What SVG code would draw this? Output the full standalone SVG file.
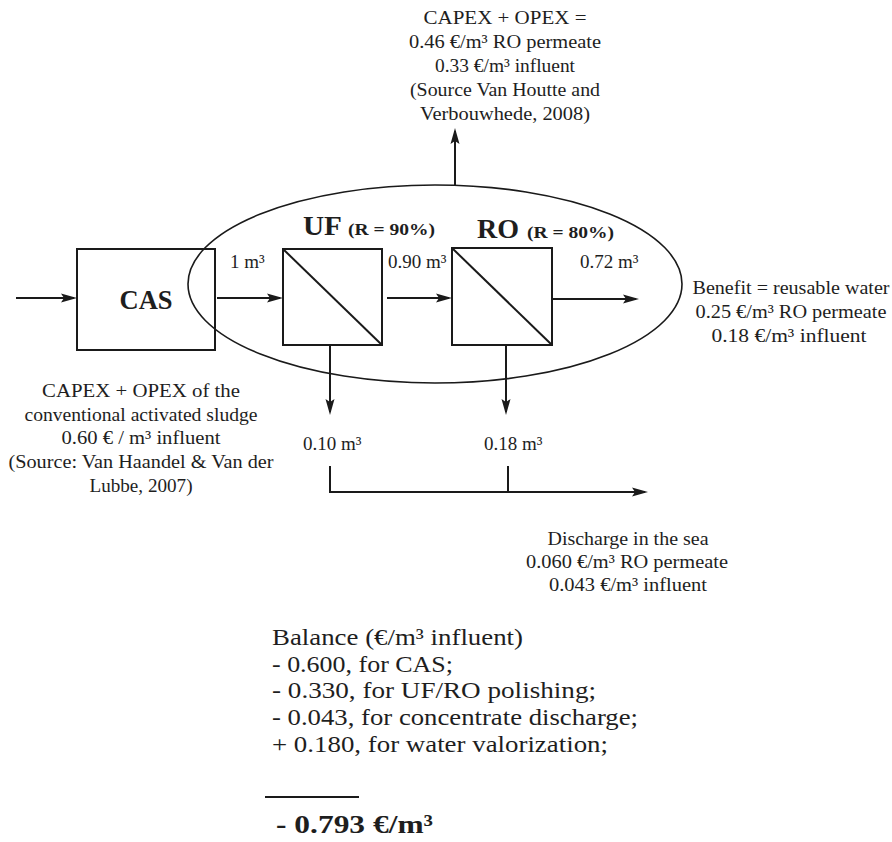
<svg xmlns="http://www.w3.org/2000/svg" width="892" height="842" viewBox="0 0 892 842">
  <defs>
    <marker id="ah" markerUnits="userSpaceOnUse" markerWidth="16" markerHeight="10" refX="13" refY="5" orient="auto">
      <path d="M0,0.5 L16,5 L0,9.5 L3,5 Z" fill="#1a1a1a"/>
    </marker>
    <style>
      .ln { stroke: #1a1a1a; stroke-width: 2; fill: none; }
      .bx { stroke: #1a1a1a; stroke-width: 2; fill: none; }
      .el { stroke: #1a1a1a; stroke-width: 1.6; fill: none; }
      .t { font-family: "Liberation Serif", "Times New Roman", serif; font-size: 19px; fill: #1e1e1e; }
      .c { text-anchor: middle; }
      .b { font-weight: bold; }
      .big { font-size: 27px; }
      .sm { font-size: 17px; }
      .bal { font-family: "Liberation Serif", "Times New Roman", serif; font-size: 23px; fill: #1e1e1e; }
      .tot { font-family: "Liberation Serif", "Times New Roman", serif; font-size: 26px; font-weight: bold; fill: #1e1e1e; }
    </style>
  </defs>

  <rect width="892" height="842" fill="#ffffff"/>

  <g id="boundary">
    <ellipse class="el" cx="435" cy="284" rx="247" ry="99"/>
  </g>

  <g id="connectors">
    <path class="ln" d="M16,298 H74" marker-end="url(#ah)"/>
    <path class="ln" d="M217,298 H280" marker-end="url(#ah)"/>
    <path class="ln" d="M387,298 H449" marker-end="url(#ah)"/>
    <path class="ln" d="M553,299 H636" marker-end="url(#ah)"/>
    <path class="ln" d="M455,185 V131" marker-end="url(#ah)"/>
    <path class="ln" d="M330,345 V412" marker-end="url(#ah)"/>
    <path class="ln" d="M506,345 V412" marker-end="url(#ah)"/>
    <path class="ln" d="M330,466 V492 H645" marker-end="url(#ah)"/>
    <path class="ln" d="M508,466 V492"/>
  </g>

  <g id="cas">
    <rect class="bx" x="77" y="249" width="138" height="101"/>
    <text class="t b c big" x="146" y="309" textLength="53" lengthAdjust="spacingAndGlyphs">CAS</text>
  </g>

  <g id="uf">
    <rect class="bx" x="283" y="249" width="99" height="96"/>
    <line class="ln" x1="283" y1="249" x2="382" y2="345"/>
    <text class="t b big" x="303" y="235" textLength="39" lengthAdjust="spacingAndGlyphs">UF</text>
    <text class="t b sm" x="348" y="235" textLength="87" lengthAdjust="spacingAndGlyphs">(R = 90%)</text>
  </g>

  <g id="ro">
    <rect class="bx" x="452" y="248" width="100" height="97"/>
    <line class="ln" x1="452" y1="248" x2="552" y2="345"/>
    <text class="t b big" x="477" y="238" textLength="42" lengthAdjust="spacingAndGlyphs">RO</text>
    <text class="t b sm" x="527" y="238" textLength="87" lengthAdjust="spacingAndGlyphs">(R = 80%)</text>
  </g>

  <g id="flow-labels">
    <text class="t" x="230" y="268">1 m³</text>
    <text class="t" x="388" y="268">0.90 m³</text>
    <text class="t" x="580" y="268">0.72 m³</text>
    <text class="t" x="303" y="450">0.10 m³</text>
    <text class="t" x="484" y="450">0.18 m³</text>
  </g>

  <g id="uf-ro-cost">
    <text class="t c" x="505" y="24" textLength="163" lengthAdjust="spacingAndGlyphs">CAPEX + OPEX =</text>
    <text class="t c" x="505" y="48" textLength="192" lengthAdjust="spacingAndGlyphs">0.46 €/m³ RO permeate</text>
    <text class="t c" x="505" y="72" textLength="140" lengthAdjust="spacingAndGlyphs">0.33 €/m³ influent</text>
    <text class="t c" x="505" y="96" textLength="190" lengthAdjust="spacingAndGlyphs">(Source Van Houtte and</text>
    <text class="t c" x="505" y="120" textLength="170" lengthAdjust="spacingAndGlyphs">Verbouwhede, 2008)</text>
  </g>

  <g id="cas-cost">
    <text class="t c" x="141" y="397" textLength="198" lengthAdjust="spacingAndGlyphs">CAPEX + OPEX of the</text>
    <text class="t c" x="141" y="421" textLength="233" lengthAdjust="spacingAndGlyphs">conventional activated sludge</text>
    <text class="t c" x="141" y="444" textLength="159" lengthAdjust="spacingAndGlyphs">0.60 € / m³ influent</text>
    <text class="t c" x="141" y="468" textLength="265" lengthAdjust="spacingAndGlyphs">(Source: Van Haandel &amp; Van der</text>
    <text class="t c" x="141" y="492" textLength="103" lengthAdjust="spacingAndGlyphs">Lubbe, 2007)</text>
  </g>

  <g id="benefit">
    <text class="t c" x="791" y="294" textLength="197" lengthAdjust="spacingAndGlyphs">Benefit = reusable water</text>
    <text class="t c" x="791" y="318" textLength="191" lengthAdjust="spacingAndGlyphs">0.25 €/m³ RO permeate</text>
    <text class="t c" x="789" y="342" textLength="155" lengthAdjust="spacingAndGlyphs">0.18 €/m³ influent</text>
  </g>

  <g id="discharge">
    <text class="t c" x="628" y="545" textLength="161" lengthAdjust="spacingAndGlyphs">Discharge in the sea</text>
    <text class="t c" x="627" y="568" textLength="202" lengthAdjust="spacingAndGlyphs">0.060 €/m³ RO permeate</text>
    <text class="t c" x="628" y="591" textLength="158" lengthAdjust="spacingAndGlyphs">0.043 €/m³ influent</text>
  </g>

  <g id="balance">
    <text class="bal" x="272" y="645" textLength="251" lengthAdjust="spacingAndGlyphs">Balance (€/m³ influent)</text>
    <text class="bal" x="272" y="672" textLength="181" lengthAdjust="spacingAndGlyphs">- 0.600, for CAS;</text>
    <text class="bal" x="272" y="698" textLength="324" lengthAdjust="spacingAndGlyphs">- 0.330, for UF/RO polishing;</text>
    <text class="bal" x="272" y="725" textLength="366" lengthAdjust="spacingAndGlyphs">- 0.043, for concentrate discharge;</text>
    <text class="bal" x="272" y="752" textLength="336" lengthAdjust="spacingAndGlyphs">+ 0.180, for water valorization;</text>
    <line x1="265" y1="797" x2="359" y2="797" stroke="#1a1a1a" stroke-width="2"/>
    <text class="tot" x="276" y="833" textLength="157" lengthAdjust="spacingAndGlyphs">- 0.793 €/m³</text>
  </g>
</svg>
